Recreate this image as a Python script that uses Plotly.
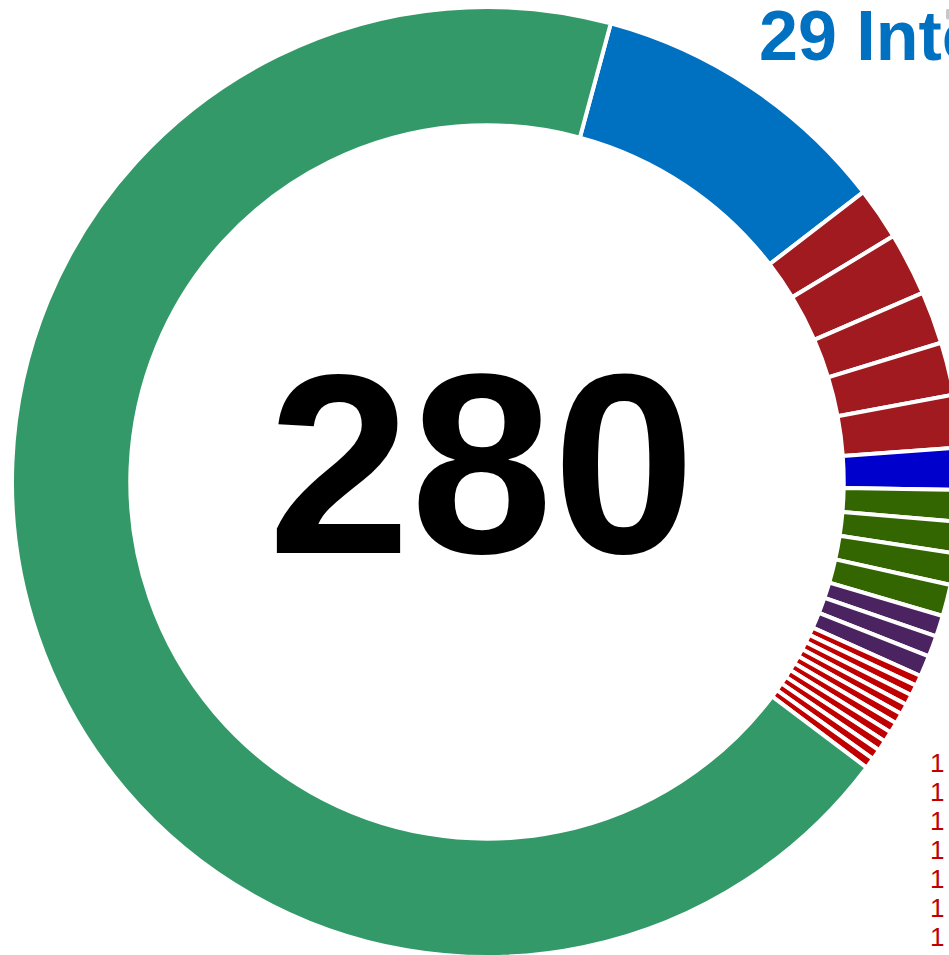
import plotly.graph_objects as go

# Seat groups, clockwise from the top-right
labels = ["Int", "R1", "R2", "R3", "R4", "R5", "B1", "G1", "G2", "G3", "G4",
          "P1", "P2", "P3"] + [f"S{i}" for i in range(1, 11)] + ["Main"]
values = [29, 5, 6, 5, 5, 5, 4, 3, 3, 3, 3, 2, 2, 2] + [1] * 10 + [193]
colors = (["#0070C0"] + ["#A01A20"] * 5 + ["#0000CC"] + ["#336600"] * 4
          + ["#4B2360"] * 3 + ["#C00000"] * 10 + ["#349968"])
big_label = "Intelligence"
small_labels = values[14:24]          # the ten single seats
total = sum(values)

W, H = 1000, 960
ML, MT, SIZE = 12, 7, 950


def px(x):
    return (x - ML) / SIZE


def py(y):
    return 1 - (y - MT) / SIZE


fig = go.Figure(go.Pie(
    labels=labels,
    values=values,
    sort=False,
    direction="clockwise",
    rotation=15.1,
    hole=0.751,
    marker=dict(colors=colors, line=dict(color="white", width=4)),
    textinfo="none",
    automargin=False,
    showlegend=False,
))

annotations = [
    dict(text=f"<b>{total}</b>", x=px(481), y=py(464), xref="paper", yref="paper",
         xanchor="center", yanchor="middle", showarrow=False,
         font=dict(size=256, family="Liberation Sans", color="black")),
    dict(text=f"<b>{values[0]} {big_label}</b>", x=px(757), y=py(36),
         xref="paper", yref="paper", xanchor="left", yanchor="middle",
         showarrow=False,
         font=dict(size=70, family="Liberation Sans", color=colors[0])),
]
for i, v in enumerate(small_labels):
    annotations.append(dict(
        text=str(v), x=px(928), y=py(762.5 + 29 * i), xref="paper", yref="paper",
        xanchor="left", yanchor="middle", showarrow=False,
        font=dict(size=26, family="Liberation Sans", color=colors[14 + i])))

fig.update_layout(
    width=W, height=H,
    margin=dict(l=ML, r=W - ML - SIZE, t=MT, b=H - MT - SIZE),
    paper_bgcolor="white",
    annotations=annotations,
)
fig.write_html(
    "out.html",
    post_script=("document.body.style.margin='0';"
                 "document.body.style.overflow='hidden';"
                 "document.documentElement.style.overflow='hidden';"),
)
